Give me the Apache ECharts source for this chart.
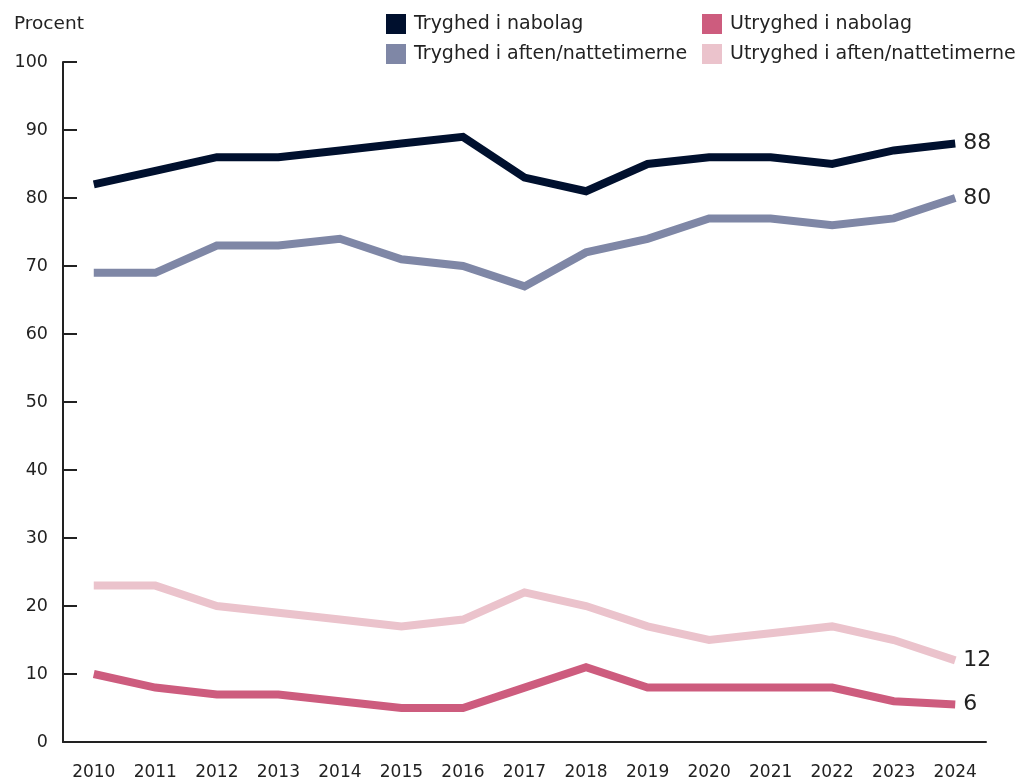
<!DOCTYPE html>
<html>
<head>
<meta charset="utf-8">
<script src="https://cdn.jsdelivr.net/npm/echarts@6/dist/echarts.min.js"></script>
<style>
  html, body { margin: 0; padding: 0; background: #fff; }
  #chart { width: 1018px; height: 781px; }
</style>
</head>
<body>
<div id="chart"></div>
<script>
var years = ['2010','2011','2012','2013','2014','2015','2016','2017','2018','2019','2020','2021','2022','2023','2024'];

var trygNabo  = [82, 84, 86, 86, 87, 88, 89, 83, 81, 85, 86, 86, 85, 87, 88];
var trygAften = [69, 69, 73, 73, 74, 71, 70, 67, 72, 74, 77, 77, 76, 77, 80];
var utrygNabo = [10, 8, 7, 7, 6, 5, 5, 8, 11, 8, 8, 8, 8, 6, 5.5];
var utrygAften = [23, 23, 20, 19, 18, 17, 18, 22, 20, 17, 15, 16, 17, 15, 12];

var font = 'DejaVu Sans';
var ink = '#222';

var chart = echarts.init(document.getElementById('chart'));

function line(name, data, color) {
    return {
        name: name,
        type: 'line',
        data: data,
        symbol: 'none',
        lineStyle: { width: 8, color: color, cap: 'butt', join: 'miter' },
        itemStyle: { color: color },
        endLabel: {
            show: true,
            distance: 8,
            color: ink,
            fontFamily: font,
            fontSize: 22,
            formatter: function (p) { return Math.round(p.value); }
        },
        emphasis: { disabled: true }
    };
}

var legendBase = {
    orient: 'vertical',
    top: 9,
    itemWidth: 20,
    itemHeight: 20,
    itemGap: 10,
    icon: 'rect',
    textStyle: { fontFamily: font, fontSize: 19, color: ink, padding: [0, 0, 0, 3] },
    selectedMode: false
};

chart.setOption({
    animation: false,
    title: {
        text: 'Procent',
        left: 9,
        top: 10,
        textStyle: { fontFamily: font, fontSize: 18.5, fontWeight: 'normal', color: ink }
    },
    legend: [
        Object.assign({}, legendBase, { left: 381, data: ['Tryghed i nabolag', 'Tryghed i aften/nattetimerne'] }),
        Object.assign({}, legendBase, { left: 697, data: ['Utryghed i nabolag', 'Utryghed i aften/nattetimerne'] })
    ],
    grid: { left: 63, right: 32, top: 62, bottom: 39, containLabel: false },
    xAxis: {
        type: 'category',
        data: years,
        boundaryGap: true,
        axisLine: { lineStyle: { color: ink, width: 2 } },
        axisTick: { inside: true, length: 17, interval: 0, lineStyle: { color: ink, width: 2 } },
        axisLabel: { margin: 22, fontFamily: font, fontSize: 17, color: ink, interval: 0 }
    },
    yAxis: {
        type: 'value',
        min: 0,
        max: 100,
        interval: 10,
        axisLine: { show: true, lineStyle: { color: ink, width: 2 } },
        axisTick: { show: true, inside: true, length: 14, lineStyle: { color: ink, width: 2 } },
        axisLabel: { margin: 15, fontFamily: font, fontSize: 17.5, color: ink },
        splitLine: { show: false }
    },
    series: [
        line('Utryghed i aften/nattetimerne', utrygAften, '#ebc3cc'),
        line('Utryghed i nabolag', utrygNabo, '#cd5c7e'),
        line('Tryghed i aften/nattetimerne', trygAften, '#7f87a6'),
        line('Tryghed i nabolag', trygNabo, '#00102e')
    ]
});
</script>
</body>
</html>
